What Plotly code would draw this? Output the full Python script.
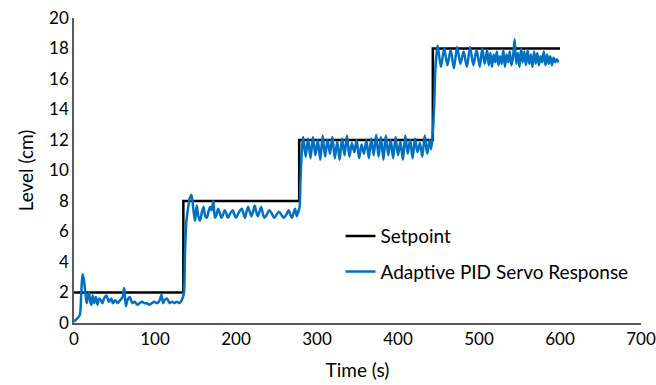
import plotly.graph_objects as go

# Setpoint (step profile)
setpoint_time = [0, 135, 278, 443, 600]
setpoint_level = [2, 8, 12, 18, 18]

# Adaptive PID servo response
response_time = [
    0, 4, 7, 9, 10.5, 12, 14, 15.5, 17, 18.5, 20, 21.5, 23, 25, 27, 29, 31, 33, 35, 37,
    40, 43, 46, 48, 51, 54, 57, 60, 62, 64, 66, 69, 72, 75, 78, 81, 84, 87, 90, 93,
    96, 99, 102, 105, 108, 110, 112, 115, 118, 121, 124, 127, 130, 133, 135.5,
    137, 138.5, 141, 143, 145, 147.5, 149.5, 151.5, 153.5, 155.5, 158, 160, 162, 164, 166,
    168, 170, 172, 174, 176, 178, 180, 182, 184, 186, 188, 190, 193, 196, 198, 200, 203,
    207, 209, 211, 213, 215, 217, 219, 221, 223, 225, 227, 229, 231, 233, 235, 238, 241,
    244, 247, 250, 253, 256, 259, 262, 265, 267, 269, 271, 273, 275, 277, 278.5,
    279.5, 280.5, 282, 283,
    286, 289, 292, 295, 298, 301, 304, 307, 310, 313, 316, 319, 322, 325, 328, 331, 334,
    337, 340, 343, 346, 349, 352, 355, 358, 361, 364, 367, 370, 373, 376, 379, 382, 385,
    388, 391, 394, 397, 400, 403, 406, 409, 412, 415, 418, 421, 424, 427, 430, 433, 436,
    439, 441, 443, 444.5, 446, 447.5, 449,
    453, 457, 461, 465, 469, 473, 477, 481, 485, 489, 493, 497, 501, 504, 507, 510, 512,
    514, 516, 518, 520, 522, 524, 526, 528, 530, 532, 534, 536, 538, 540, 542, 544, 546,
    548, 550, 552, 554, 556, 558, 560, 562, 564, 566, 568, 570, 572, 574, 576, 578, 580,
    582, 584, 586, 588, 590, 592, 594, 596, 598,
]
response_level = [
    0.1, 0.3, 0.5, 2.0, 3.2, 2.9, 2.0, 1.3, 1.7, 2.0, 1.4, 1.2, 1.8, 1.3, 1.7, 1.2, 1.6, 1.5, 1.3, 1.6,
    1.8, 1.4, 1.6, 1.3, 1.5, 1.3, 1.5, 1.7, 2.3, 1.1, 1.5, 1.7, 1.3, 1.4, 1.2, 1.3, 1.4, 1.3, 1.3, 1.2,
    1.3, 1.4, 1.3, 1.4, 1.85, 1.3, 1.5, 1.6, 1.3, 1.4, 1.3, 1.4, 1.3, 1.5, 1.9,
    4.5, 6.5, 7.6, 8.2, 8.4, 7.4, 6.7, 7.7, 7.0, 6.7, 7.3, 7.6, 7.0, 6.9, 7.3,
    7.6, 7.4, 8.0, 6.9, 7.1, 7.5, 7.2, 6.9, 7.1, 7.4, 7.2, 6.9, 7.2, 7.4, 7.1, 6.9, 7.2,
    7.5, 7.2, 6.9, 7.3, 7.6, 7.3, 7.0, 7.3, 7.7, 7.3, 7.0, 7.3, 7.6, 7.2, 6.9, 7.1, 7.4,
    7.2, 6.9, 7.1, 7.3, 7.1, 6.9, 7.1, 7.4, 7.1, 6.9, 7.2, 7.5, 7.0, 7.3, 7.6,
    9.2, 10.5, 11.8, 12.2,
    10.9, 12.1, 10.8, 12.2, 11.0, 12.0, 10.7, 12.3, 10.9, 12.0, 11.1, 12.2, 10.8, 11.9, 10.7, 12.1, 11.0,
    12.3, 10.9, 11.8, 11.2, 12.0, 10.8, 11.7, 11.1, 12.0, 10.8, 12.1, 11.0, 12.35, 10.9, 12.2, 10.7, 12.3,
    11.0, 12.0, 10.8, 12.2, 11.0, 11.9, 10.7, 12.3, 11.1, 12.0, 10.8, 12.1, 11.2, 11.8, 10.9, 12.3, 11.1,
    12.0, 11.4, 12.6, 14.0, 16.5, 17.6, 18.2,
    16.8, 18.0, 16.9, 17.9, 16.7, 18.1, 17.0, 17.8, 16.8, 18.1, 16.9, 17.9, 16.8, 18.0, 17.0, 17.9, 16.9,
    17.7, 16.8, 17.6, 17.1, 17.8, 16.9, 17.5, 17.0, 17.9, 16.8, 17.6, 17.1, 17.8, 16.9, 17.4, 18.6, 17.0,
    17.7, 16.8, 18.0, 17.1, 17.8, 16.9, 17.9, 17.0, 17.6, 16.8, 17.8, 17.0, 17.7, 16.9, 17.5, 17.1, 17.8,
    16.9, 17.6, 17.0, 17.5, 16.9, 17.4, 17.1, 17.3, 17.1,
]

x_ticks = [0, 100, 200, 300, 400, 500, 600, 700]
y_ticks = [0, 2, 4, 6, 8, 10, 12, 14, 16, 18, 20]

FONT = "Lato"
AXIS_COLOR = "#595959"

fig = go.Figure()
fig.add_trace(go.Scatter(
    x=setpoint_time, y=setpoint_level, mode="lines", name="Setpoint",
    line=dict(color="black", width=2.5, shape="hv"), legend="legend",
))
fig.add_trace(go.Scatter(
    x=response_time, y=response_level, mode="lines", name="Adaptive PID Servo Response",
    line=dict(color="#0070C0", width=2.5, shape="spline", smoothing=0.8), legend="legend2",
))

legend_common = dict(
    xanchor="left", yanchor="middle", bgcolor="rgba(0,0,0,0)",
    font=dict(family=FONT, size=19, color="black"), itemwidth=30,
)

fig.update_layout(
    width=656, height=385,
    margin=dict(l=74, r=15, t=18, b=62),
    paper_bgcolor="white", plot_bgcolor="white",
    font=dict(family=FONT, color="black"),
    showlegend=True,
    legend=dict(x=0.47, y=0.285, **legend_common),
    legend2=dict(x=0.47, y=0.168, **legend_common),
    xaxis=dict(
        range=[0, 700], tickvals=x_ticks, ticktext=[str(v) for v in x_ticks],
        showgrid=False, zeroline=False, showline=True, linecolor=AXIS_COLOR, linewidth=1.5,
        ticks="", automargin=False, ticklabeloverflow="allow",
        tickfont=dict(family=FONT, size=17, color="black"),
        title=dict(text="Time (s)", font=dict(family=FONT, size=19, color="black"), standoff=16),
    ),
    yaxis=dict(
        range=[0, 20], tickvals=y_ticks, ticktext=[str(v) for v in y_ticks],
        showgrid=False, zeroline=False, showline=True, linecolor=AXIS_COLOR, linewidth=1.5,
        ticks="", automargin=False, ticklabeloverflow="allow",
        tickfont=dict(family=FONT, size=17, color="black"),
        title=dict(text="Level (cm)", font=dict(family=FONT, size=19, color="black"), standoff=10),
    ),
)

fig.write_html("out.html")
